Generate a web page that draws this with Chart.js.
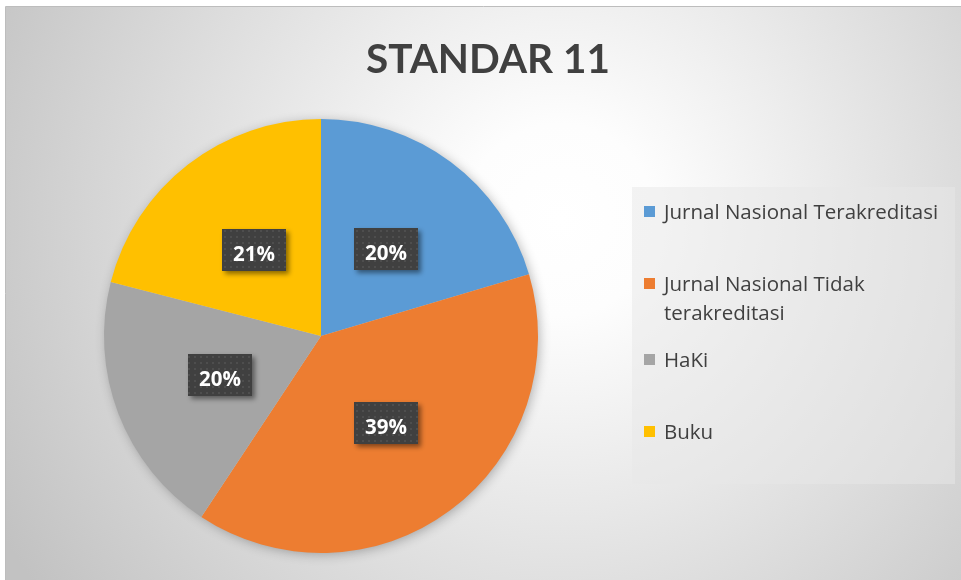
<!DOCTYPE html>
<html>
<head>
<meta charset="utf-8">
<script src="https://cdn.jsdelivr.net/npm/chart.js@4.4.1/dist/chart.umd.min.js"></script>
<style>
  html, body { margin: 0; padding: 0; background: #ffffff; }
  #wrap { position: relative; width: 961px; height: 580px; }
</style>
</head>
<body>
<div id="wrap"><canvas id="c" width="961" height="580"></canvas></div>
<script>
// ---- data ----
const chartTitle = 'STANDAR 11';
const categories = ['Jurnal Nasional Terakreditasi', 'Jurnal Nasional Tidak terakreditasi', 'HaKi', 'Buku'];
const shareValues = [20.4, 38.9, 19.7, 21.0];
const sliceColors = ['#5B9BD5', '#ED7D31', '#A5A5A5', '#FFC000'];

// ---- plugins ----
const backgroundPlugin = {
  id: 'bgFrame',
  beforeDraw(chart) {
    const ctx = chart.ctx;
    ctx.save();
    ctx.fillStyle = '#ffffff';
    ctx.fillRect(0, 0, chart.width, chart.height);
    const g = ctx.createRadialGradient(560, 220, 0, 560, 220, 640);
    g.addColorStop(0, '#ffffff');
    g.addColorStop(0.15, '#fdfdfd');
    g.addColorStop(1, '#c2c2c2');
    ctx.fillStyle = g;
    ctx.fillRect(6, 7, chart.width - 6, chart.height - 7);
    ctx.strokeStyle = '#bdbdbd';
    ctx.lineWidth = 1;
    ctx.beginPath();
    ctx.moveTo(5.5, chart.height);
    ctx.lineTo(5.5, 6.5);
    ctx.lineTo(chart.width, 6.5);
    ctx.stroke();
    // title
    ctx.fillStyle = '#404040';
    ctx.font = 'bold 40.5px Lato';
    ctx.textAlign = 'center';
    ctx.textBaseline = 'alphabetic';
    ctx.fillText(chartTitle, 488, 73);
    ctx.restore();
  }
};

const pieShadowPlugin = {
  id: 'pieShadow',
  beforeDatasetsDraw(chart) {
    const arc = chart.getDatasetMeta(0).data[0];
    if (!arc) return;
    const ctx = chart.ctx;
    ctx.save();
    ctx.shadowColor = 'rgba(0,0,0,0.30)';
    ctx.shadowBlur = 12;
    ctx.shadowOffsetX = 2;
    ctx.shadowOffsetY = 2;
    ctx.fillStyle = '#cccccc';
    ctx.beginPath();
    ctx.arc(arc.x, arc.y, arc.outerRadius - 1, 0, Math.PI * 2);
    ctx.fill();
    ctx.restore();
  }
};

let dotPattern = null;
function getPattern(ctx) {
  if (dotPattern) return dotPattern;
  const t = document.createElement('canvas');
  t.width = 6; t.height = 6;
  const tc = t.getContext('2d');
  tc.fillStyle = '#404040';
  tc.fillRect(0, 0, 6, 6);
  tc.fillStyle = '#4e4e4e';
  tc.fillRect(2, 2, 2, 2);
  dotPattern = ctx.createPattern(t, 'repeat');
  return dotPattern;
}

const boxLabelPlugin = {
  id: 'boxLabels',
  afterDatasetsDraw(chart) {
    const ctx = chart.ctx;
    const meta = chart.getDatasetMeta(0);
    const data = chart.data.datasets[0].data;
    const total = data.reduce((a, b) => a + b, 0);
    ctx.save();
    ctx.font = 'bold 20.5px "Open Sans"';
    meta.data.forEach((arc, i) => {
      const p = arc.getCenterPoint();
      const txt = Math.round(data[i] / total * 100) + '%';
      const w = 64, h = 42;
      const x = Math.round(p.x - w / 2), y = Math.round(p.y - h / 2);
      ctx.save();
      ctx.shadowColor = 'rgba(0,0,0,0.45)';
      ctx.shadowBlur = 5;
      ctx.shadowOffsetX = 3;
      ctx.shadowOffsetY = 3;
      ctx.fillStyle = getPattern(ctx);
      ctx.fillRect(x, y, w, h);
      ctx.restore();
      ctx.fillStyle = '#ffffff';
      ctx.textAlign = 'center';
      ctx.textBaseline = 'alphabetic';
      ctx.fillText(txt, x + w / 2, y + h / 2 + 10.5);
    });
    ctx.restore();
  }
};

const sideLegendPlugin = {
  id: 'sideLegend',
  afterDraw(chart, args, opts) {
    const ctx = chart.ctx;
    ctx.save();
    // legend panel
    ctx.fillStyle = 'rgba(232,232,232,0.5)';
    ctx.fillRect(opts.box.x, opts.box.y, opts.box.w, opts.box.h);
    ctx.font = opts.font;
    ctx.textAlign = 'left';
    ctx.textBaseline = 'alphabetic';
    const labels = chart.data.labels;
    const colors = chart.data.datasets[0].backgroundColor;
    labels.forEach((label, i) => {
      // wrap words
      const words = label.split(' ');
      const lines = [];
      let cur = '';
      words.forEach(wd => {
        const test = cur ? cur + ' ' + wd : wd;
        if (ctx.measureText(test).width > opts.maxWidth && cur) {
          lines.push(cur); cur = wd;
        } else cur = test;
      });
      if (cur) lines.push(cur);
      const base = opts.baselines[i];
      ctx.fillStyle = colors[i];
      ctx.fillRect(opts.markerX, base - 13, 11, 11);
      ctx.fillStyle = '#404040';
      lines.forEach((ln, k) => ctx.fillText(ln, opts.textX, base + k * opts.lineHeight));
    });
    ctx.restore();
  }
};

new Chart(document.getElementById('c'), {
  type: 'pie',
  data: {
    labels: categories,
    datasets: [{
      data: shareValues,
      backgroundColor: sliceColors,
      borderWidth: 0,
      hoverOffset: 0,
      offset: 0
    }]
  },
  options: {
    responsive: false,
    animation: false,
    events: [],
    layout: { padding: { left: 104, right: 423, top: 119, bottom: 27 } },
    plugins: {
      legend: { display: false },
      tooltip: { enabled: false },
      title: { display: false },
      sideLegend: {
        box: { x: 632, y: 187, w: 323, h: 297 },
        font: '20.5px "Open Sans"',
        maxWidth: 285,
        markerX: 644,
        textX: 664,
        baselines: [219, 291, 367, 439],
        lineHeight: 28.5
      }
    }
  },
  plugins: [backgroundPlugin, pieShadowPlugin, boxLabelPlugin, sideLegendPlugin]
});
</script>
</body>
</html>
